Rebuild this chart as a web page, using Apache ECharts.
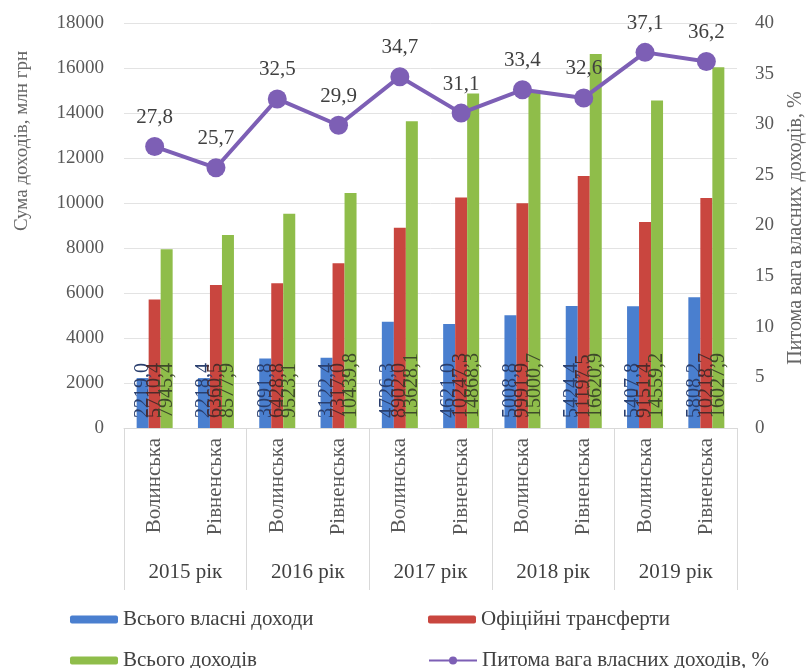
<!DOCTYPE html>
<html><head><meta charset="utf-8">
<script src="https://cdn.jsdelivr.net/npm/echarts@6/dist/echarts.min.js"></script>
<style>html,body{margin:0;padding:0;background:#fff}#c{width:807px;height:668px}</style>
</head><body><div id="c"></div>
<script>
const regions = ['Волинська','Рівненська','Волинська','Рівненська','Волинська','Рівненська','Волинська','Рівненська','Волинська','Рівненська'];
const years = ['2015 рік','2016 рік','2017 рік','2018 рік','2019 рік'];
const ownRevenue = [2219.0, 2218.4, 3091.8, 3122.4, 4726.3, 4621.0, 5008.8, 5424.4, 5407.8, 5808.2];
const transfers = [5710.4, 6360.5, 6428.8, 7317.0, 8902.0, 10247.3, 9991.9, 11197.5, 9151.4, 10218.7];
const totalRevenue = [7945.4, 8577.9, 9523.1, 10439.8, 13628.1, 14868.3, 15000.7, 16620.9, 14559.2, 16027.9];
const ownShare = [27.8, 25.7, 32.5, 29.9, 34.7, 31.1, 33.4, 32.6, 37.1, 36.2];
const leftTicks = {min:0, max:18000, interval:2000};
const rightTicks = {min:0, max:40, interval:5};

const FONT = 'Liberation Serif';
const fmt = v => v.toFixed(1).replace('.', ',');
const barLabel = c => ({
  show: true, position: 'insideBottom', rotate: 90, align: 'left', verticalAlign: 'middle',
  distance: 10, fontFamily: FONT, fontSize: 20, color: c,
  formatter: p => fmt(p.value)
});
const names = ['Всього власні доходи','Офіційні трансферти','Всього доходів','Питома вага власних доходів, %'];
const legendBase = {itemWidth: 48, itemHeight: 8, textStyle:{fontFamily: FONT, fontSize: 21, color:'#404040'}, itemGap: 5};

const chart = echarts.init(document.getElementById('c'));
chart.setOption({
  animation: false,
  grid: {left: 124, right: 70, top: 23, bottom: 240},
  graphic: [
    {type:'text', rotation: Math.PI/2, x: 22, y: 141, style:{text:'Сума доходів, млн грн', fontFamily: FONT, fontSize: 19, fill:'#666', align:'center', verticalAlign:'middle'}},
    {type:'text', rotation: Math.PI/2, x: 796, y: 228, style:{text:'Питома вага власних доходів, %', fontFamily: FONT, fontSize: 20, fill:'#666', align:'center', verticalAlign:'middle'}}
  ],
  legend: [
    Object.assign({}, legendBase, {left: 65, top: 604, data:[names[0]]}),
    Object.assign({}, legendBase, {left: 423, top: 604, data:[names[1]]}),
    Object.assign({}, legendBase, {left: 65, top: 645, data:[names[2]]}),
    Object.assign({}, legendBase, {left: 423, top: 645, data:[names[3]], itemHeight: 10})
  ],
  xAxis: [
    {type:'category', data: regions, position:'bottom',
     axisLine:{lineStyle:{color:'#d9d9d9'}}, axisTick:{show:false},
     axisLabel:{rotate: 90, margin: 10, fontFamily: FONT, fontSize: 21, color:'#595959', interval: 0}},
    {type:'category', data: years, position:'bottom',
     axisLine:{show:false}, axisTick:{show:true, length: 162, lineStyle:{color:'#d9d9d9'}},
     axisLabel:{margin: 134, fontFamily: FONT, fontSize: 21, color:'#404040', interval: 0}}
  ],
  yAxis: [
    {type:'value', min: leftTicks.min, max: leftTicks.max, interval: leftTicks.interval,
     axisLine:{show:false}, axisTick:{show:false},
     splitLine:{lineStyle:{color:'#e3e3e3'}},
     axisLabel:{margin: 20, fontFamily: FONT, fontSize: 19, color:'#595959', formatter: v => String(v)}},
    {type:'value', min: rightTicks.min, max: rightTicks.max, interval: rightTicks.interval,
     axisLine:{show:false}, axisTick:{show:false}, splitLine:{show:false},
     axisLabel:{margin: 18, fontFamily: FONT, fontSize: 19, color:'#595959'}}
  ],
  series: [
    {name: names[0], type:'bar', data: ownRevenue, barWidth: 12, barGap: '0%', itemStyle:{color:'#4a7fcf'}, label: barLabel('#2a3f6e')},
    {name: names[1], type:'bar', data: transfers, barWidth: 12, barGap: '0%', itemStyle:{color:'#c9463f'}, label: barLabel('#4e2a2a')},
    {name: names[2], type:'bar', data: totalRevenue, barWidth: 12, barGap: '0%', itemStyle:{color:'#8fbd4a'}, label: barLabel('#3e4a2a')},
    {name: names[3], type:'line', yAxisIndex: 1, data: ownShare, symbol:'circle', symbolSize: 19,
     lineStyle:{width: 4, color:'#7d5fb5'}, itemStyle:{color:'#7d5fb5'},
     label:{show:true, position:'top', distance: 9, fontFamily: FONT, fontSize: 21, color:'#404040', formatter: p => fmt(p.value)}}
  ]
});
</script></body></html>
